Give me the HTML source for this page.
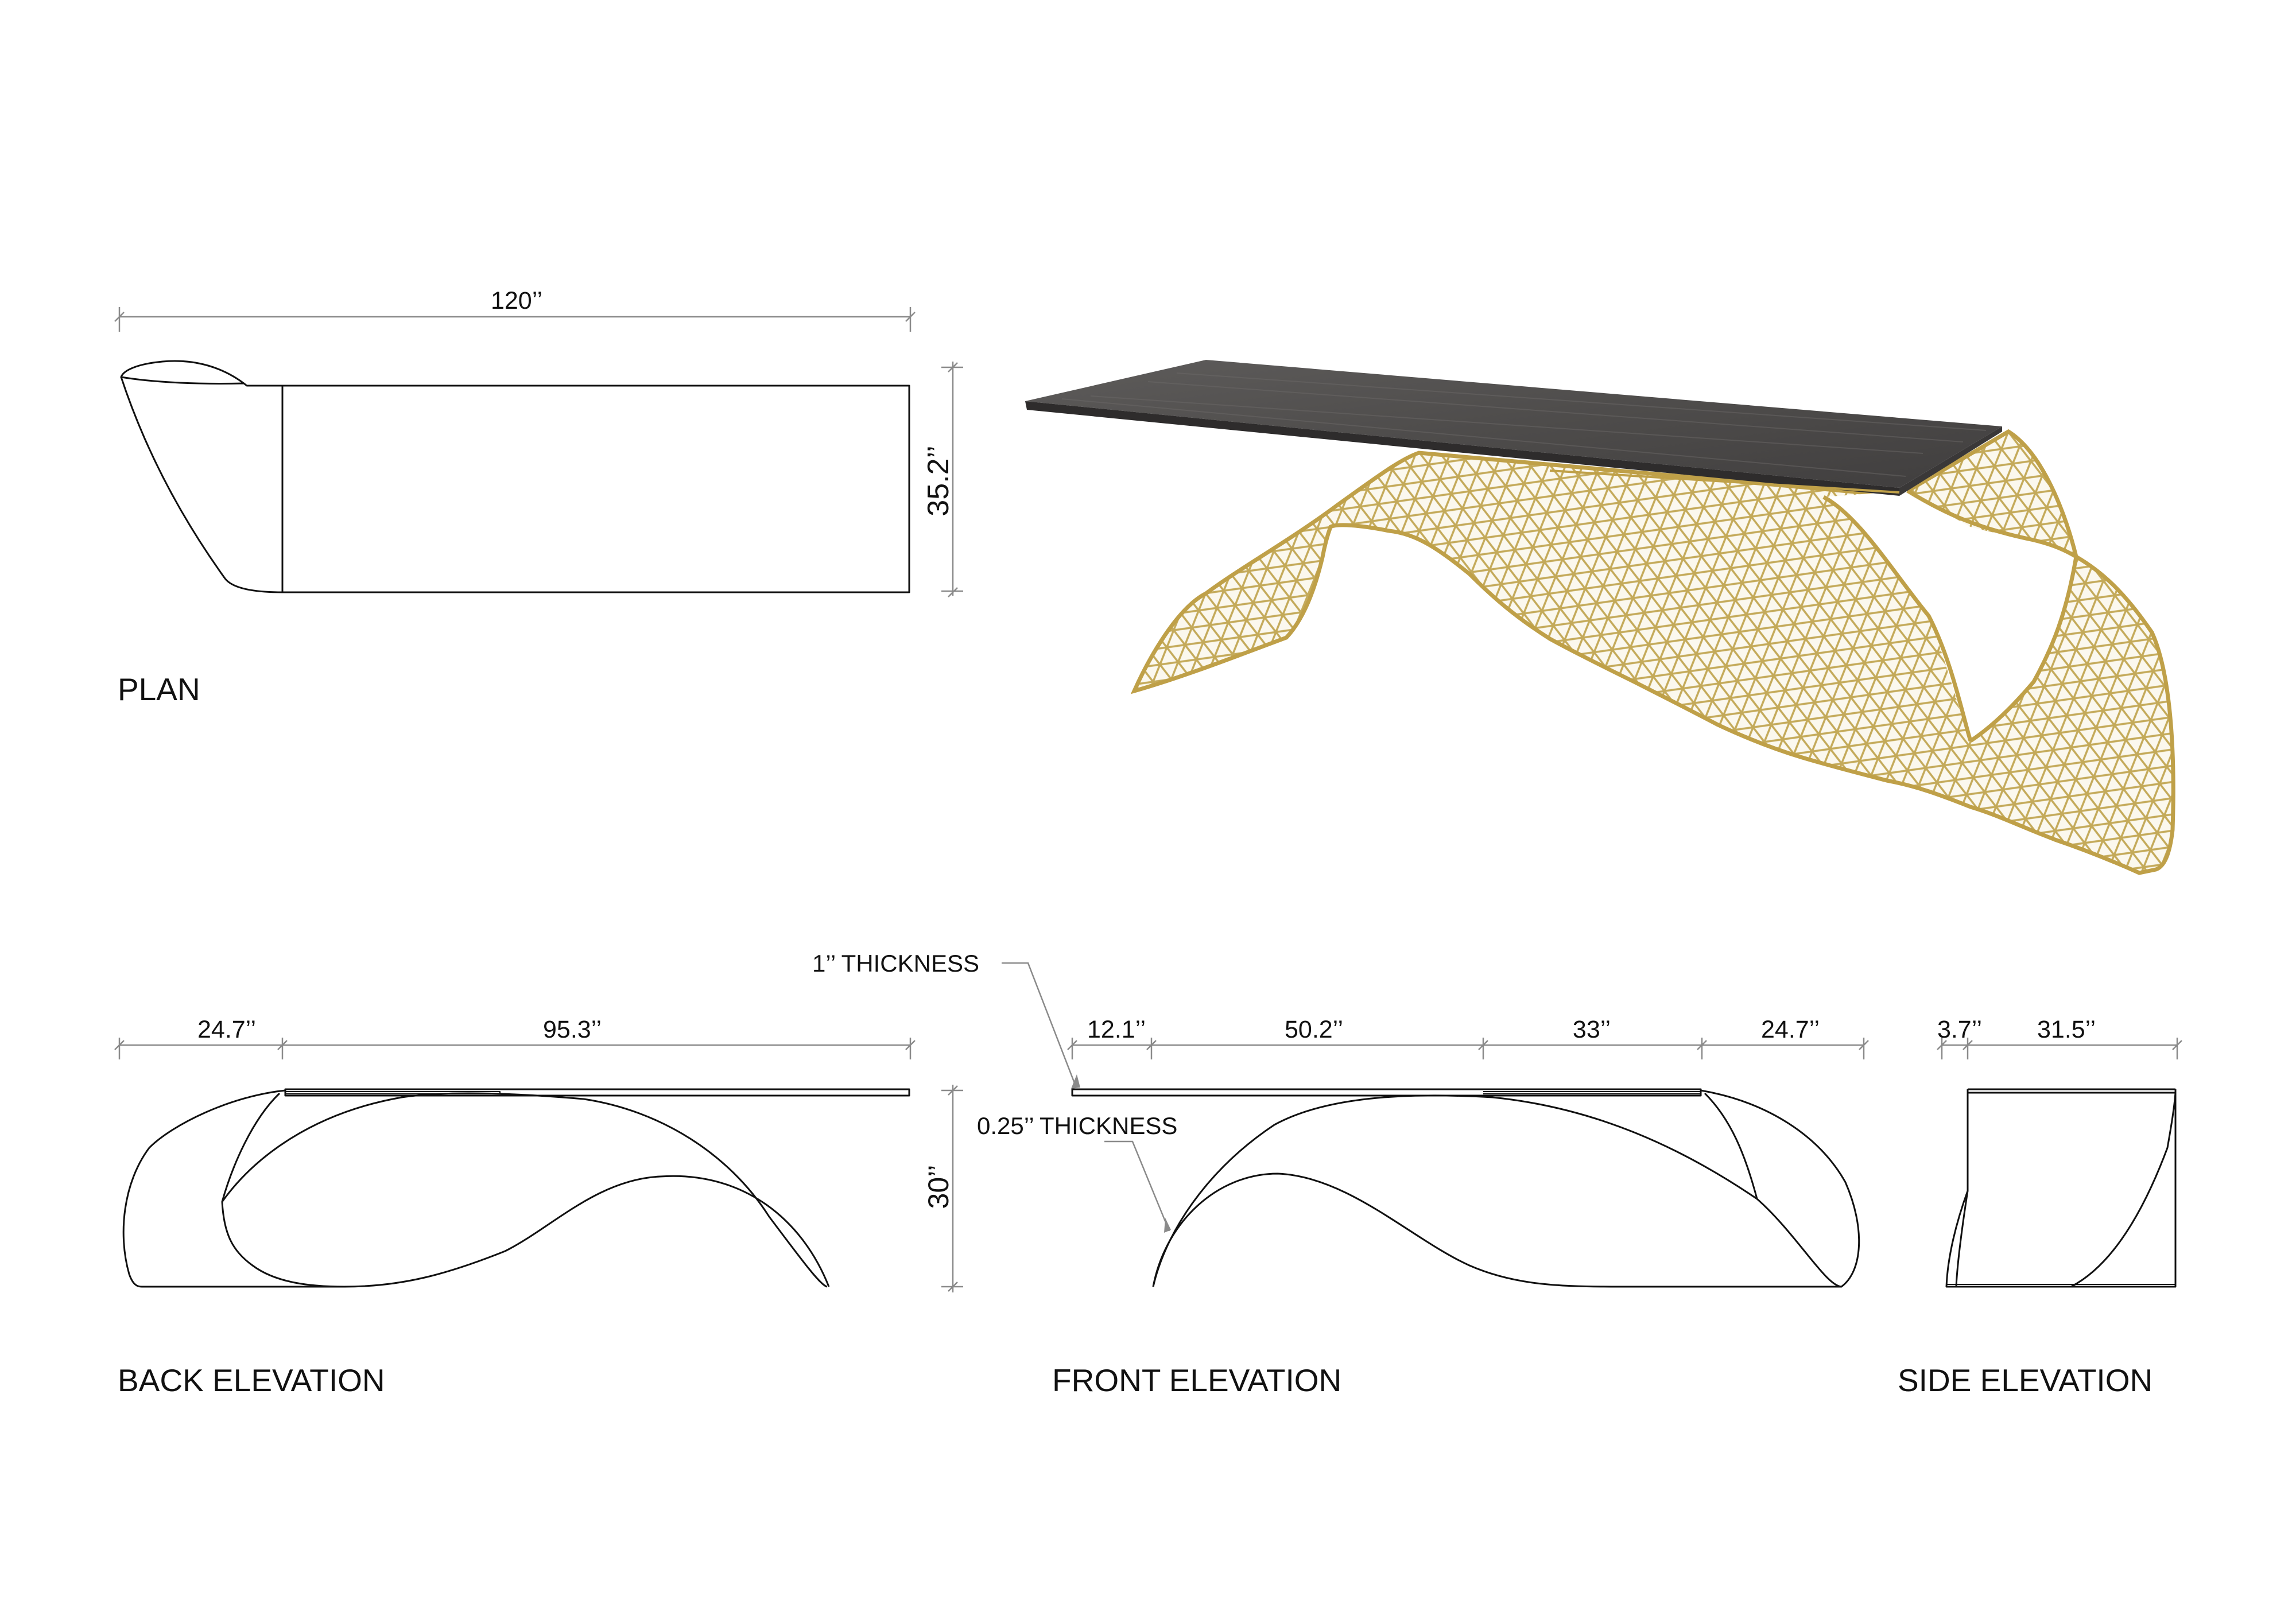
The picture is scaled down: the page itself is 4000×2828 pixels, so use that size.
<!DOCTYPE html>
<html><head><meta charset="utf-8"><style>
html,body{margin:0;padding:0;background:#fff}
svg{display:block}
text{font-family:"Liberation Sans",Arial,sans-serif;fill:#111}
</style></head><body>
<svg width="4000" height="2828" viewBox="0 0 4000 2828" xmlns="http://www.w3.org/2000/svg">
<defs>
<pattern id="lat" width="64" height="56" patternUnits="userSpaceOnUse" patternTransform="rotate(-8)">
<rect width="64" height="56" fill="#fbf8ee"/>
<path d="M0 0H64M0 28H64M0 56H64M0 0L32 56M32 0L64 56M32 0L0 56M64 0L32 56" stroke="#c4aa5a" stroke-width="3.5" fill="none"/>
</pattern>
<linearGradient id="wood" x1="0" y1="0" x2="1" y2="1">
<stop offset="0" stop-color="#5e5c5b"/><stop offset="0.5" stop-color="#4e4c4b"/><stop offset="1" stop-color="#403e3e"/>
</linearGradient>
</defs>

<g stroke="#8a8a8a" stroke-width="2.5" fill="none">
<path d="M208 552H1586M208 535V578M1586 535V578M200 560L216 544M1578 560L1594 544"/>
<path d="M1660 630V1038M1640 640H1678M1640 1030H1678M1652 648L1668 632M1652 1040L1668 1024"/>
<path d="M208 1821H1586M208 1808V1846M492 1808V1846M1586 1808V1846M200 1829L216 1813M484 1829L500 1813M1578 1829L1594 1813"/>
<path d="M1660 1890V2252M1640 1900H1678M1640 2242H1678M1652 1908L1668 1892M1652 2250L1668 2234"/>
<path d="M1868 1821H3247M1868 1808V1846M2006 1808V1846M2584 1808V1846M2965 1808V1846M3247 1808V1846M1860 1829L1876 1813M1998 1829L2014 1813M2576 1829L2592 1813M2957 1829L2973 1813M3239 1829L3255 1813"/>
<path d="M3383 1821H3793M3383 1808V1846M3428 1808V1846M3793 1808V1846M3375 1829L3391 1813M3420 1829L3436 1813M3785 1829L3801 1813"/>
<path d="M1745 1678H1791L1875 1895"/>
<path d="M1924 1989H1973L2037 2145"/>
</g>
<path d="M1866 1897L1876 1872L1882 1895Z M2028 2148L2030 2122L2040 2143Z" fill="#8a8a8a"/>

<g font-size="43" text-anchor="middle">
<text x="900" y="538">120’’</text>
<text x="395" y="1808">24.7’’</text>
<text x="997" y="1808">95.3’’</text>
<text x="1945" y="1808">12.1’’</text>
<text x="2289" y="1808">50.2’’</text>
<text x="2773" y="1808">33’’</text>
<text x="3119" y="1808">24.7’’</text>
<text x="3414" y="1808">3.7’’</text>
<text x="3600" y="1808">31.5’’</text>
</g>
<text font-size="52" text-anchor="middle" transform="translate(1652,838) rotate(-90)">35.2’’</text>
<text font-size="50" text-anchor="middle" transform="translate(1652,2068) rotate(-90)">30’’</text>
<text x="1415" y="1693" font-size="42">1’’ THICKNESS</text>
<text x="1702" y="1976" font-size="42">0.25’’ THICKNESS</text>
<g font-size="55">
<text x="205" y="1220">PLAN</text>
<text x="205" y="2424">BACK ELEVATION</text>
<text x="1833" y="2424">FRONT ELEVATION</text>
<text x="3306" y="2424">SIDE ELEVATION</text>
</g>

<g stroke="#111" stroke-width="3" fill="none" stroke-linejoin="round">
<rect x="492" y="672" width="1092" height="360"/>
<path d="M492 672H430C390 640 340 625 283 630C240 634 215 645 211 657C260 665 330 670 425 668"/>
<path d="M211 657C245 760 300 880 392 1008C405 1025 440 1032 492 1032"/>
<rect x="497" y="1898" width="1087" height="11"/>
<path d="M497 1902H871V1906H497" stroke-width="2"/>
<path d="M497 1900C400 1910 300 1960 260 2000C215 2060 205 2150 225 2220C232 2240 240 2242 247 2242H600"/>
<path d="M487 1905C440 1950 405 2030 387 2094C390 2150 405 2180 440 2205C480 2235 540 2242 600 2242C700 2242 780 2220 880 2180C960 2140 1040 2055 1150 2050C1300 2040 1400 2130 1444 2242"/>
<path d="M387 2094C440 2020 540 1940 700 1912C780 1900 900 1905 1017 1915C1150 1935 1270 2010 1340 2120C1400 2200 1430 2240 1441 2242"/>
<rect x="1868" y="1898" width="1095" height="11"/>
<path d="M2584 1902H2963M2584 1906H2963" stroke-width="2"/>
<path d="M2009 2242C2030 2150 2100 2040 2220 1960C2320 1905 2480 1905 2600 1912C2780 1930 2930 2000 3061 2089C3130 2150 3180 2240 3208 2242H2822"/>
<path d="M2009 2242C2030 2130 2120 2045 2226 2045C2350 2050 2460 2160 2560 2205C2640 2240 2720 2242 2822 2242"/>
<path d="M2963 1900C3080 1920 3170 1980 3215 2060C3250 2140 3245 2215 3208 2242"/>
<path d="M2970 1905C3015 1950 3040 2010 3061 2089"/>
<path d="M3428 1898H3790M3428 1904H3790"/>
<path d="M3428 1898V2075C3408 2130 3393 2190 3391 2242H3790V1898"/>
<path d="M3428 2075C3418 2140 3410 2200 3408 2242"/>
<path d="M3608 2242C3660 2215 3720 2150 3776 2000C3783 1960 3788 1930 3790 1904"/>
<path d="M3391 2238H3790" stroke-width="2"/>
</g>

<!-- rendered table -->
<path d="M1976 1204C2000 1150 2050 1060 2101 1034C2160 990 2250 940 2330 880C2400 830 2440 800 2472 789L3309 864L3499 752C3560 790 3600 900 3617 970C3660 995 3700 1030 3749 1102C3780 1170 3790 1300 3785 1446C3780 1490 3770 1510 3756 1515L3727 1521C3680 1500 3630 1480 3580 1463C3520 1440 3480 1420 3433 1406C3380 1385 3340 1370 3287 1360C3230 1345 3190 1335 3140 1320C3090 1305 3040 1285 2993 1263C2940 1235 2900 1215 2847 1188C2790 1160 2740 1135 2700 1113C2640 1075 2600 1040 2560 1000C2510 960 2470 930 2420 925C2370 915 2330 912 2318 918C2310 940 2306 960 2304 971C2290 1030 2270 1080 2241 1111C2150 1145 2060 1180 1976 1204Z" fill="url(#lat)" stroke="#bfa048" stroke-width="7"/>
<path d="M3177 866C3240 900 3300 1000 3360 1073C3390 1150 3410 1230 3433 1291C3470 1268 3520 1215 3543 1188C3575 1130 3600 1070 3617 970C3580 955 3560 945 3543 941C3500 935 3460 925 3433 918C3390 895 3350 870 3323 855Z" fill="#fff"/>
<path d="M3323 855C3380 890 3440 920 3543 941C3580 950 3600 960 3617 970C3600 1070 3575 1130 3543 1188C3520 1215 3480 1260 3433 1291M3177 866C3240 900 3300 1000 3360 1073C3400 1150 3420 1250 3433 1291" fill="none" stroke="#bfa048" stroke-width="7"/>
<path d="M1786 699L2101 627L3488 743L3309 850Z" fill="url(#wood)"/>
<path d="M1786 699L3309 850L3309 864L1789 714Z" fill="#2e2c2c"/>
<path d="M3309 850L3488 743L3488 752L3309 864Z" fill="#3a3838"/>
<path d="M2700 820L3309 858" stroke="#bfa048" stroke-width="4"/>
<g stroke="#6e6b6a" stroke-width="2" opacity="0.45">
<path d="M1900 690L3350 790M2000 665L3420 770M1850 695L3320 830M2050 650L3460 750"/>
</g>
</svg>
</body></html>
